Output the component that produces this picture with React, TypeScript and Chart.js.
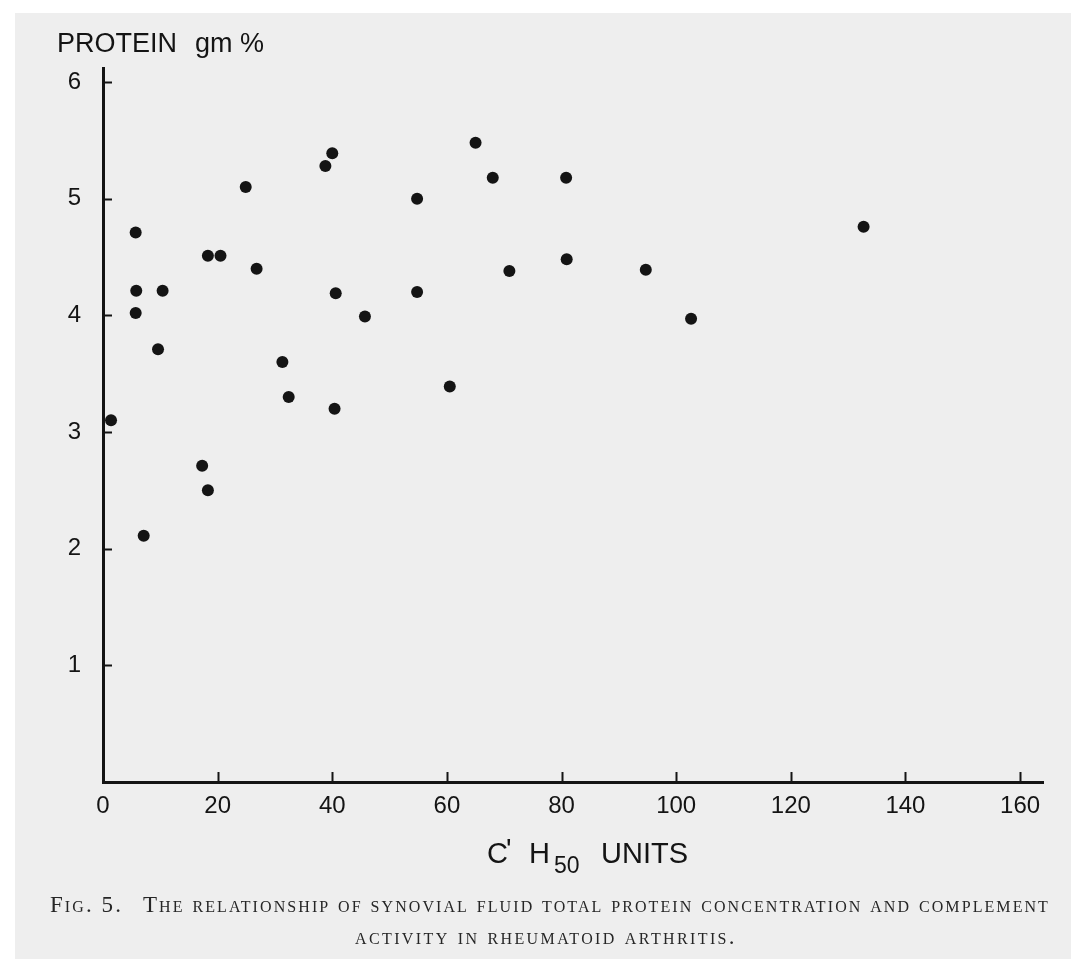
import React, { useEffect, useLayoutEffect, useRef } from 'react';
import { Chart, registerables } from 'chart.js';

Chart.register(...registerables);

// C'H50 units (x) and protein gm % (y)
const complementUnits = [
  1.4, 5.7, 5.8, 5.7, 10.4, 9.6, 7.1, 18.3, 20.5, 24.9, 26.8, 17.3, 18.3, 31.3, 32.4, 40.4,
  40.6, 45.7, 38.8, 40.0, 65.0, 68.0, 54.8, 80.8, 70.9, 80.9, 94.7, 54.8, 60.5, 132.7, 102.6,
];
const proteinGm = [
  3.1, 4.02, 4.21, 4.71, 4.21, 3.71, 2.11, 4.51, 4.51, 5.1, 4.4, 2.71, 2.5, 3.6, 3.3, 3.2,
  4.19, 3.99, 5.28, 5.39, 5.48, 5.18, 5.0, 5.18, 4.38, 4.48, 4.39, 4.2, 3.39, 4.76, 3.97,
];
const xTickValues = [0, 20, 40, 60, 80, 100, 120, 140, 160];
const yTickValues = [1, 2, 3, 4, 5, 6];

const yTitle = ['PROTEIN', 'gm %'];
const xTitleParts = ["C", "'", 'H', '50', 'UNITS'];
const captionLine1Lead = 'Fig. 5.';
const captionLine1Rest = 'The relationship of synovial fluid total protein concentration and complement';
const captionLine2 = 'activity in rheumatoid arthritis.';

const INK = '#141414';
const SANS = '"Liberation Sans", Arial, sans-serif';

const decorPlugin = {
  id: 'decor',
  afterDraw(chart: any) {
    const { ctx, chartArea, scales } = chart;
    const xs = scales.x;
    const ys = scales.y;
    ctx.save();
    ctx.strokeStyle = INK;
    ctx.lineWidth = 2;
    ctx.beginPath();
    xTickValues.forEach((v) => {
      if (v === 0) return;
      const px = Math.round(xs.getPixelForValue(v)) + 0.5;
      ctx.moveTo(px, chartArea.bottom);
      ctx.lineTo(px, chartArea.bottom - 10);
    });
    yTickValues.forEach((v) => {
      const py = Math.round(ys.getPixelForValue(v)) + 0.5;
      ctx.moveTo(chartArea.left, py);
      ctx.lineTo(chartArea.left + 9, py);
    });
    ctx.stroke();

    ctx.fillStyle = INK;
    ctx.textAlign = 'left';
    ctx.textBaseline = 'alphabetic';
    // y-axis title
    ctx.font = `27px ${SANS}`;
    ctx.fillText(yTitle[0], 57, 52);
    ctx.fillText(yTitle[1], 195, 52);

    // x-axis title: C' H50 UNITS
    const base = 863;
    ctx.font = `29px ${SANS}`;
    ctx.fillText(xTitleParts[0], 487, base);
    ctx.fillText(xTitleParts[1], 506, base - 4);
    ctx.fillText(xTitleParts[2], 529, base);
    ctx.font = `23px ${SANS}`;
    ctx.fillText(xTitleParts[3], 554, base + 10);
    ctx.font = `29px ${SANS}`;
    ctx.fillText(xTitleParts[4], 601, base);
    ctx.restore();
  },
};

function Caption({ lead, text, target, style }: { lead?: string; text: string; target: number; style: any }) {
  const ref = useRef<HTMLDivElement>(null);
  useLayoutEffect(() => {
    const el = ref.current;
    if (!el) return;
    const fit = () => {
      el.style.letterSpacing = '0px';
      const w = el.getBoundingClientRect().width;
      const n = (lead ? lead.length : 0) + text.length;
      el.style.letterSpacing = `${(target - w) / n}px`;
    };
    fit();
    (document as any).fonts?.ready?.then(fit);
  }, []);
  return (
    <div
      ref={ref}
      style={{
        position: 'absolute',
        whiteSpace: 'nowrap',
        display: 'inline-block',
        fontFamily: '"Liberation Serif", "Times New Roman", serif',
        fontVariant: 'small-caps',
        fontSize: 23,
        lineHeight: '26px',
        color: '#262626',
        ...style,
      }}
    >
      {lead ? <span style={{ marginRight: 20 }}>{lead}</span> : null}
      {text}
    </div>
  );
}

export default function App() {
  const canvasRef = useRef<HTMLCanvasElement>(null);

  useEffect(() => {
    const canvas = canvasRef.current;
    if (!canvas) return;
    const data = complementUnits.map((x, i) => ({ x, y: proteinGm[i] }));
    const chart = new Chart(canvas, {
      type: 'scatter',
      data: {
        datasets: [
          {
            data,
            pointRadius: 6,
            pointHoverRadius: 6,
            backgroundColor: INK,
            borderColor: INK,
            borderWidth: 0,
            showLine: false,
          },
        ],
      },
      options: {
        animation: false,
        responsive: false,
        devicePixelRatio: 1,
        events: [],
        layout: { padding: { left: 0, top: 68, right: 28, bottom: 117 } },
        plugins: { legend: { display: false }, tooltip: { enabled: false }, title: { display: false } },
        scales: {
          x: {
            type: 'linear',
            position: 'bottom',
            min: 0,
            max: 164,
            afterBuildTicks: (s: any) => {
              s.ticks = xTickValues.map((value) => ({ value }));
            },
            afterFit: (s: any) => {
              s.height = 60;
            },
            ticks: {
              autoSkip: false,
              maxRotation: 0,
              padding: 10,
              color: INK,
              font: { family: SANS, size: 24 },
            },
            grid: { display: false, drawTicks: false },
            border: { display: true, color: INK, width: 3 },
          },
          y: {
            type: 'linear',
            min: 0,
            max: 6.12,
            afterBuildTicks: (s: any) => {
              s.ticks = yTickValues.map((value) => ({ value }));
            },
            afterFit: (s: any) => {
              s.width = 103;
            },
            ticks: {
              padding: 22,
              color: INK,
              font: { family: SANS, size: 24 },
            },
            grid: { display: false, drawTicks: false },
            border: { display: true, color: INK, width: 3 },
          },
        },
      },
      plugins: [decorPlugin],
    } as any);
    return () => chart.destroy();
  }, []);

  return (
    <div style={{ position: 'absolute', left: 0, top: 0, width: 1071, height: 959, background: '#ffffff', overflow: 'hidden' }}>
      <div style={{ position: 'absolute', left: 15, top: 13, right: 0, bottom: 0, background: '#eeeeee' }} />
      <canvas
        ref={canvasRef}
        width={1071}
        height={959}
        style={{ position: 'absolute', left: 0, top: 0, width: 1071, height: 959 }}
      />
      <Caption lead={captionLine1Lead} text={captionLine1Rest} target={1000} style={{ left: 50, top: 892 }} />
      <Caption text={captionLine2} target={382} style={{ left: 355, top: 924 }} />
    </div>
  );
}
